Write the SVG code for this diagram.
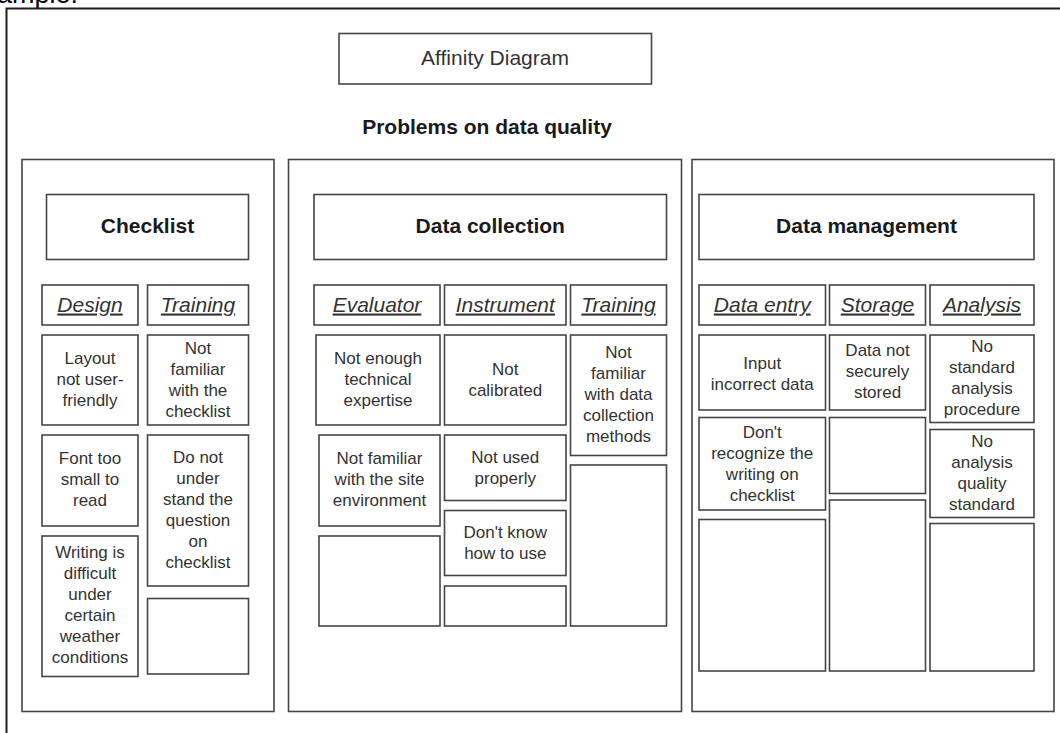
<svg xmlns="http://www.w3.org/2000/svg" width="1060" height="733" viewBox="0 0 1060 733">
  <style>
    .bg { fill: #ffffff; }
    .frame { fill: none; stroke: #1e1e1e; stroke-width: 2; }
    .box { fill: #ffffff; stroke: #454545; stroke-width: 1.6; }
    .t { font-family: "Liberation Sans", Arial, sans-serif; fill: #333333; text-anchor: middle; }
    .title { font-size: 21px; }
    .group { font-size: 21px; font-weight: bold; fill: #1a1a1a; }
    .sub { font-size: 21px; font-style: italic; text-decoration: underline; }
    .card { font-size: 17px; }
    .caption { font-family: "Liberation Sans", Arial, sans-serif; font-size: 27px; fill: #000000; }
  </style>

  <rect class="bg" x="0" y="0" width="1060" height="733"/>

  <!-- page caption, clipped by the top edge -->
  <text class="caption" x="-3" y="3">ample:</text>

  <!-- outer frame -->
  <path class="frame" d="M1062 8.5 H6.5 V735"/>

  <g id="title">
    <rect class="box" x="339" y="33.5" width="312.5" height="50.5"/>
    <text class="t title" x="495" y="65">Affinity Diagram</text>
  </g>

  <g id="subject">
    <text class="t group" x="487" y="134">Problems on data quality</text>
  </g>

  <!-- three category panels -->
  <g id="panel-checklist">
    <rect class="box" x="22" y="159.5" width="252" height="552"/>
    <rect class="box" x="46.5" y="194.5" width="202" height="65"/>
    <text class="t group" x="147.5" y="232.5">Checklist</text>
  </g>
  <g id="panel-data-collection">
    <rect class="box" x="288.5" y="159.5" width="393" height="552"/>
    <rect class="box" x="314" y="194.5" width="352.5" height="65"/>
    <text class="t group" x="490.25" y="232.5">Data collection</text>
  </g>
  <g id="panel-data-management">
    <rect class="box" x="692" y="159.5" width="362" height="552"/>
    <rect class="box" x="699" y="194.5" width="335" height="65"/>
    <text class="t group" x="866.5" y="232.5">Data management</text>
  </g>

  <!-- sub-category headers -->
  <g id="sub-design">
    <rect class="box" x="42" y="285" width="96" height="40"/>
    <text class="t sub" x="90" y="311.5">Design</text>
  </g>
  <g id="sub-training-checklist">
    <rect class="box" x="147.5" y="285" width="101" height="40"/>
    <text class="t sub" x="198" y="311.5">Training</text>
  </g>
  <g id="sub-evaluator">
    <rect class="box" x="314" y="285" width="126" height="40"/>
    <text class="t sub" x="377" y="311.5">Evaluator</text>
  </g>
  <g id="sub-instrument">
    <rect class="box" x="444.5" y="285" width="121.5" height="40"/>
    <text class="t sub" x="505.25" y="311.5">Instrument</text>
  </g>
  <g id="sub-training-collection">
    <rect class="box" x="570.5" y="285" width="96" height="40"/>
    <text class="t sub" x="618.5" y="311.5">Training</text>
  </g>
  <g id="sub-data-entry">
    <rect class="box" x="699" y="285" width="126.5" height="40"/>
    <text class="t sub" x="762.25" y="311.5">Data entry</text>
  </g>
  <g id="sub-storage">
    <rect class="box" x="829.5" y="285" width="96" height="40"/>
    <text class="t sub" x="877.5" y="311.5">Storage</text>
  </g>
  <g id="sub-analysis">
    <rect class="box" x="930" y="285" width="104" height="40"/>
    <text class="t sub" x="982" y="311.5">Analysis</text>
  </g>

  <!-- Checklist cards -->
  <g id="card-layout">
    <rect class="box" x="42" y="335" width="96" height="90"/>
    <text class="t card"><tspan x="90" y="364">Layout</tspan><tspan x="90" y="385">not user-</tspan><tspan x="90" y="406">friendly</tspan></text>
  </g>
  <g id="card-not-familiar-checklist">
    <rect class="box" x="147.5" y="335" width="101" height="90"/>
    <text class="t card"><tspan x="198" y="353.5">Not</tspan><tspan x="198" y="374.5">familiar</tspan><tspan x="198" y="395.5">with the</tspan><tspan x="198" y="416.5">checklist</tspan></text>
  </g>
  <g id="card-font-small">
    <rect class="box" x="42" y="435" width="96" height="91"/>
    <text class="t card"><tspan x="90" y="463.5">Font too</tspan><tspan x="90" y="484.5">small to</tspan><tspan x="90" y="505.5">read</tspan></text>
  </g>
  <g id="card-not-understand">
    <rect class="box" x="147.5" y="435" width="101" height="151"/>
    <text class="t card"><tspan x="198" y="462.5">Do not</tspan><tspan x="198" y="483.5">under</tspan><tspan x="198" y="504.5">stand the</tspan><tspan x="198" y="525.5">question</tspan><tspan x="198" y="546.5">on</tspan><tspan x="198" y="567.5">checklist</tspan></text>
  </g>
  <g id="card-writing-weather">
    <rect class="box" x="42" y="536" width="96" height="140.5"/>
    <text class="t card"><tspan x="90" y="558">Writing is</tspan><tspan x="90" y="579">difficult</tspan><tspan x="90" y="600">under</tspan><tspan x="90" y="621">certain</tspan><tspan x="90" y="642">weather</tspan><tspan x="90" y="663">conditions</tspan></text>
  </g>
  <g id="card-training-blank">
    <rect class="box" x="147.5" y="598.5" width="101" height="75.5"/>
  </g>

  <!-- Data collection cards -->
  <g id="card-expertise">
    <rect class="box" x="316" y="335" width="124" height="90"/>
    <text class="t card"><tspan x="378" y="364">Not enough</tspan><tspan x="378" y="385">technical</tspan><tspan x="378" y="406">expertise</tspan></text>
  </g>
  <g id="card-not-calibrated">
    <rect class="box" x="444.5" y="335" width="121.5" height="90"/>
    <text class="t card"><tspan x="505.25" y="374.5">Not</tspan><tspan x="505.25" y="395.5">calibrated</tspan></text>
  </g>
  <g id="card-collection-methods">
    <rect class="box" x="570.5" y="335" width="96" height="120.5"/>
    <text class="t card"><tspan x="618.5" y="358">Not</tspan><tspan x="618.5" y="379">familiar</tspan><tspan x="618.5" y="400">with data</tspan><tspan x="618.5" y="421">collection</tspan><tspan x="618.5" y="442">methods</tspan></text>
  </g>
  <g id="card-site-environment">
    <rect class="box" x="319" y="435" width="121" height="91"/>
    <text class="t card"><tspan x="379.5" y="464">Not familiar</tspan><tspan x="379.5" y="485">with the site</tspan><tspan x="379.5" y="506">environment</tspan></text>
  </g>
  <g id="card-evaluator-blank">
    <rect class="box" x="319" y="536" width="121" height="90"/>
  </g>
  <g id="card-not-used-properly">
    <rect class="box" x="444.5" y="435" width="121.5" height="65.5"/>
    <text class="t card"><tspan x="505.25" y="462.5">Not used</tspan><tspan x="505.25" y="483.5">properly</tspan></text>
  </g>
  <g id="card-dont-know-use">
    <rect class="box" x="444.5" y="510.5" width="121.5" height="65"/>
    <text class="t card"><tspan x="505.25" y="537.5">Don't know</tspan><tspan x="505.25" y="558.5">how to use</tspan></text>
  </g>
  <g id="card-instrument-blank">
    <rect class="box" x="444.5" y="586" width="121.5" height="40"/>
  </g>
  <g id="card-training-collection-blank">
    <rect class="box" x="570.5" y="465" width="96" height="161"/>
  </g>

  <!-- Data management cards -->
  <g id="card-incorrect-data">
    <rect class="box" x="699" y="335" width="126.5" height="75"/>
    <text class="t card"><tspan x="762.25" y="368.5">Input</tspan><tspan x="762.25" y="389.5">incorrect data</tspan></text>
  </g>
  <g id="card-not-securely-stored">
    <rect class="box" x="829.5" y="335" width="96" height="75"/>
    <text class="t card"><tspan x="877.5" y="356">Data not</tspan><tspan x="877.5" y="377">securely</tspan><tspan x="877.5" y="398">stored</tspan></text>
  </g>
  <g id="card-no-procedure">
    <rect class="box" x="930" y="335" width="104" height="87.5"/>
    <text class="t card"><tspan x="982" y="352">No</tspan><tspan x="982" y="373">standard</tspan><tspan x="982" y="394">analysis</tspan><tspan x="982" y="415">procedure</tspan></text>
  </g>
  <g id="card-recognize-writing">
    <rect class="box" x="699" y="417.5" width="126.5" height="92.5"/>
    <text class="t card"><tspan x="762.25" y="437.5">Don't</tspan><tspan x="762.25" y="458.5">recognize the</tspan><tspan x="762.25" y="479.5">writing on</tspan><tspan x="762.25" y="500.5">checklist</tspan></text>
  </g>
  <g id="card-storage-blank-1">
    <rect class="box" x="829.5" y="417.5" width="96" height="76"/>
  </g>
  <g id="card-quality-standard">
    <rect class="box" x="930" y="429.5" width="104" height="88"/>
    <text class="t card"><tspan x="982" y="446.5">No</tspan><tspan x="982" y="467.5">analysis</tspan><tspan x="982" y="488.5">quality</tspan><tspan x="982" y="509.5">standard</tspan></text>
  </g>
  <g id="card-entry-blank">
    <rect class="box" x="699" y="519.5" width="126.5" height="151.5"/>
  </g>
  <g id="card-storage-blank-2">
    <rect class="box" x="829.5" y="500" width="96" height="171"/>
  </g>
  <g id="card-analysis-blank">
    <rect class="box" x="930" y="523.5" width="104" height="147.5"/>
  </g>

  <!-- the diagram has no connectors -->
  <g id="connectors"/>
</svg>
